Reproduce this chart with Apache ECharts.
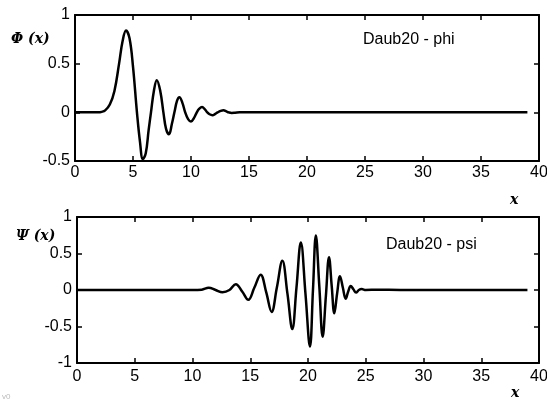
<!DOCTYPE html>
<html>
<head>
<meta charset="utf-8">
<script src="https://cdn.jsdelivr.net/npm/echarts@6/dist/echarts.min.js"></script>
<style>
html,body{margin:0;padding:0;background:#fff;}
#c{width:547px;height:403px;}
.t{position:absolute;color:#000;white-space:nowrap;line-height:1;}
.s{font:italic bold 14px "DejaVu Serif",serif;}
.n{font:16px "Liberation Sans",Arial,sans-serif;}
#dbg{position:absolute;left:2px;top:392px;font:8px sans-serif;color:#bbb;}
</style>
</head>
<body>
<div id="c"></div>
<div class="t s" style="left:11px;top:30px">Φ (x)</div>
<div class="t s" style="left:16px;top:227px">Ψ (x)</div>
<div class="t n" style="left:363px;top:30px">Daub20 - phi</div>
<div class="t n" style="left:386px;top:235px">Daub20 - psi</div>
<div class="t s" style="left:510px;top:191px">x</div>
<div class="t s" style="left:511px;top:384px">x</div>
<div id="dbg"></div>
<script>
// ---- data ----
const xTicks = [0, 5, 10, 15, 20, 25, 30, 35, 40];
const phiYTicks = [-0.5, 0, 0.5, 1];
const psiYTicks = [-1, -0.5, 0, 0.5, 1];

const phiX = [0, 1, 2, 2.3, 2.6, 3.0, 3.4, 3.8, 4.1, 4.4, 4.7, 5.0, 5.34, 5.6, 5.85, 6.1, 6.35, 6.55, 6.8, 7.05, 7.35, 7.62, 7.85, 8.1, 8.35, 8.57, 8.8, 9.0, 9.25, 9.5, 9.75, 10.0, 10.25, 10.5, 10.7, 10.95, 11.2, 11.4, 11.6, 11.85, 12.1, 12.3, 12.55, 12.8, 13.05, 13.25, 13.5, 13.8, 14.2, 15, 17, 20, 25, 30, 35, 39];
const phiY = [0, 0, 0, 0.005, 0.02, 0.08, 0.22, 0.5, 0.73, 0.84, 0.76, 0.47, 0.0, -0.3, -0.48, -0.42, -0.18, 0.0, 0.22, 0.33, 0.22, 0.0, -0.17, -0.225, -0.12, 0.0, 0.12, 0.155, 0.1, 0.0, -0.07, -0.095, -0.06, 0.0, 0.035, 0.055, 0.03, 0.0, -0.02, -0.03, -0.015, 0.0, 0.015, 0.022, 0.01, 0.0, -0.006, -0.004, 0, 0, 0, 0, 0, 0, 0, 0];

const psiX = [0, 2, 4, 6, 8, 10, 10.8, 11.4, 12.0, 12.6, 13.2, 13.75, 14.3, 14.83, 15.35, 15.9, 16.38, 16.85, 17.3, 17.78, 18.22, 18.64, 19.0, 19.38, 19.78, 20.17, 20.43, 20.68, 20.98, 21.27, 21.55, 21.82, 22.05, 22.28, 22.52, 22.77, 23.02, 23.26, 23.48, 23.7, 23.93, 24.16, 24.4, 24.65, 25.0, 26, 28, 30, 33, 36, 39];
const psiY = [0, 0, 0, 0, 0, 0, 0.005, 0.03, 0.0, -0.03, 0.0, 0.08, -0.02, -0.135, 0.03, 0.21, -0.03, -0.30, 0.03, 0.40, -0.05, -0.535, 0.03, 0.65, -0.05, -0.775, 0.0, 0.745, 0.05, -0.64, -0.08, 0.45, 0.06, -0.32, -0.05, 0.19, 0.03, -0.12, -0.02, 0.055, 0.01, -0.035, 0.0, 0.012, 0.0, 0.004, 0, 0, 0, 0, 0];

const phiData = phiX.map((x, i) => [x, phiY[i]]);
const psiData = psiX.map((x, i) => [x, psiY[i]]);

const chart = echarts.init(document.getElementById('c'), null, {renderer: 'canvas'});

function build(f) {
  const axisLine = () => ({show: true, onZero: false, lineStyle: {color: '#000', width: 2}});
  const tick = () => ({show: true, inside: true, length: 5, lineStyle: {color: '#000', width: 1.5}});
  function lbl(margin) {
    const o = {fontSize: 16};
    if (f.color) o.color = '#000';
    if (f.font) o.fontFamily = 'Liberation Sans';
    if (f.margin) o.margin = margin;
    return o;
  }
  function xAx(grid, pos, show, margin) {
    return {type: 'value', gridIndex: grid, position: pos,
      min: xTicks[0], max: xTicks[xTicks.length - 1], interval: 5,
      axisLine: axisLine(), axisTick: tick(),
      axisLabel: show ? lbl(margin) : {show: false}, splitLine: {show: false}};
  }
  function yAx(grid, pos, show, ticks) {
    return {type: 'value', gridIndex: grid, position: pos,
      min: ticks[0], max: ticks[ticks.length - 1], interval: 0.5,
      axisLine: axisLine(), axisTick: tick(),
      axisLabel: show ? lbl(5) : {show: false}, splitLine: {show: false}};
  }
  function ser(xi, yi, data) {
    const s = {type: 'line', xAxisIndex: xi, yAxisIndex: yi, data: data};
    if (f.smooth) s.smooth = 0.4;
    if (f.noSym) s.showSymbol = false; else s.symbol = 'none';
    if (f.line) s.lineStyle = {color: '#000', width: 2.5};
    else s.color = '#000';
    return s;
  }
  const g = {outerBoundsMode: 'none', containLabel: false};
  return {
    animation: false,
    grid: [
      Object.assign({left: 75, top: 15, width: 464, height: 146}, g),
      Object.assign({left: 77, top: 217, width: 462, height: 146}, g)
    ],
    xAxis: [xAx(0, 'bottom', true, 4), xAx(0, 'top', false), xAx(1, 'bottom', true, 6), xAx(1, 'top', false)],
    yAxis: [yAx(0, 'left', true, phiYTicks), yAx(0, 'right', false, phiYTicks),
            yAx(1, 'left', true, psiYTicks), yAx(1, 'right', false, psiYTicks)],
    series: [ser(0, 0, phiData), ser(2, 2, psiData)]
  };
}

function dark(x0, y0, w, h) {
  const cv = document.querySelector('#c canvas');
  const d = cv.getContext('2d').getImageData(x0, y0, w, h).data;
  let m = 255;
  for (let i = 0; i < d.length; i += 4) m = Math.min(m, d[i]);
  return m;
}
function boxOk() {
  chart.getZr().refreshImmediately();
  return dark(290, 13, 20, 5) < 120 && dark(535, 60, 7, 20) < 120 &&
         dark(290, 215, 20, 5) < 120 && dark(535, 260, 7, 20) < 120;
}

const variants = [
  {color: 1, font: 1, margin: 1, smooth: 1, noSym: 1, line: 1},
  {color: 1, font: 1, margin: 1, smooth: 1, noSym: 0, line: 1},
  {color: 1, font: 0, margin: 1, smooth: 1, noSym: 0, line: 1},
  {color: 1, font: 0, margin: 0, smooth: 1, noSym: 0, line: 1},
  {color: 0, font: 0, margin: 0, smooth: 1, noSym: 0, line: 1},
  {color: 1, font: 1, margin: 1, smooth: 0, noSym: 0, line: 1},
  {color: 1, font: 1, margin: 1, smooth: 1, noSym: 0, line: 0},
  {color: 0, font: 0, margin: 0, smooth: 0, noSym: 0, line: 0}
];
let chosen = -1;
for (let i = 0; i < variants.length; i++) {
  chart.setOption(build(variants[i]), true);
  if (boxOk()) { chosen = i; break; }
}
if (chosen < 0) chart.setOption(build(variants[0]), true);
document.getElementById('dbg').textContent = 'v' + chosen;
</script>
</body>
</html>
